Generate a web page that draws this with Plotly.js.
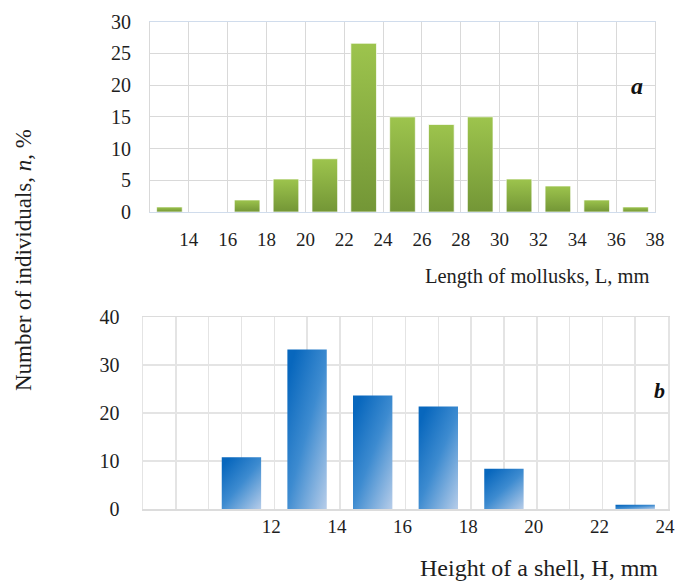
<!DOCTYPE html>
<html>
<head>
<meta charset="utf-8">
<script src="https://cdn.plot.ly/plotly-3.0.1.min.js"></script>
<style>
  html, body { margin: 0; padding: 0; background: #fff; }
  #chart { width: 685px; height: 586px; }
</style>
</head>
<body>
<div id="chart"></div>
<script>
// (a) shell length classes, mm (bin midpoints) and share of individuals, %
const lengthEdges = [12, 14, 16, 18, 20, 22, 24, 26, 28, 30, 32, 34, 36, 38];
const lengthMid = [13, 15, 17, 19, 21, 23, 25, 27, 29, 31, 33, 35, 37];
const lengthPct = [0.8, 0, 1.9, 5.2, 8.4, 26.6, 15.0, 13.8, 15.0, 5.2, 4.1, 1.9, 0.8];
const lengthTickLabels = ['', '14', '16', '18', '20', '22', '24', '26', '28', '30', '32', '34', '36', '38'];

// (b) shell height classes, mm (bin midpoints) and share of individuals, %
const heightEdges = [8, 9, 10, 11, 12, 13, 14, 15, 16, 17, 18, 19, 20, 21, 22, 23, 24];
const heightMid = [11, 13, 15, 17, 19, 21, 23];
const heightPct = [10.8, 33.3, 23.7, 21.4, 8.4, 0, 0.9];
const heightTickLabels = ['', '', '', '', '12', '', '14', '', '16', '', '18', '', '20', '', '22', '', '24'];

const W = 685, H = 586;
const px = v => v / W;
const py = v => 1 - v / H;

const serif = 'Liberation Serif, Times New Roman, serif';
const ink = '#1e1e1e';

const traces = [
  {
    type: 'bar', x: lengthMid, y: lengthPct, width: 1.32,
    xaxis: 'x', yaxis: 'y',
    marker: { color: '#8aae43', line: { color: 'rgba(255,255,255,0.7)', width: 1 } },
    hoverinfo: 'x+y'
  },
  {
    type: 'bar', x: heightMid, y: heightPct, width: 1.2,
    xaxis: 'x2', yaxis: 'y2',
    marker: { color: '#3f8ad0', line: { width: 0 } },
    hoverinfo: 'x+y'
  }
];

const layout = {
  width: W, height: H,
  margin: { l: 0, r: 0, t: 0, b: 0 },
  paper_bgcolor: '#fff', plot_bgcolor: '#fff',
  showlegend: false,
  font: { family: serif, color: ink },
  xaxis: {
    domain: [px(150), px(655)], anchor: 'y',
    range: [12, 38], tickmode: 'array',
    tickvals: lengthEdges, ticktext: lengthTickLabels,
    showgrid: true, gridcolor: '#d9d9d9', gridwidth: 1,
    showline: true, linecolor: '#d0dcec', mirror: true,
    zeroline: false, ticks: '', ticklabelstandoff: 10,
    tickfont: { family: serif, size: 19, color: ink }, fixedrange: true
  },
  yaxis: {
    domain: [py(212), py(21.7)], anchor: 'x',
    range: [0, 30], tickmode: 'linear', tick0: 0, dtick: 5,
    showgrid: true, gridcolor: '#d9d9d9', gridwidth: 1,
    showline: true, linecolor: '#d9d9d9', mirror: true,
    zeroline: false, ticks: '', ticklabelstandoff: 14,
    tickfont: { family: serif, size: 20, color: ink }, fixedrange: true
  },
  xaxis2: {
    domain: [px(143), px(668)], anchor: 'y2',
    range: [8, 24], tickmode: 'array',
    tickvals: heightEdges, ticktext: heightTickLabels,
    showgrid: true, gridcolor: '#e4e4e4', gridwidth: 1.5,
    showline: true, linecolor: '#dcdcdc', linewidth: 1.5, mirror: true,
    zeroline: false, ticks: '', ticklabelstandoff: 0, ticklabelshift: -3,
    tickfont: { family: serif, size: 19, color: ink }, fixedrange: true
  },
  yaxis2: {
    domain: [py(509), py(317.3)], anchor: 'x2',
    range: [0, 40], tickmode: 'linear', tick0: 0, dtick: 10,
    showgrid: true, gridcolor: '#e4e4e4', gridwidth: 1.5,
    showline: true, linecolor: '#e4e4e4', linewidth: 1.5, mirror: true,
    zeroline: false, ticks: '', ticklabelstandoff: 18,
    tickfont: { family: serif, size: 20, color: ink }, fixedrange: true
  },
  annotations: [
    {
      xref: 'paper', yref: 'paper', x: px(24), y: py(260),
      xanchor: 'center', yanchor: 'middle',
      text: 'Number of individuals, <i>n</i>, %', textangle: -90,
      showarrow: false, font: { family: serif, size: 23, color: ink }
    },
    {
      xref: 'paper', yref: 'paper', x: px(537), y: py(276),
      xanchor: 'center', yanchor: 'middle',
      text: 'Length of mollusks, L, mm',
      showarrow: false, font: { family: serif, size: 20.5, color: ink }
    },
    {
      xref: 'paper', yref: 'paper', x: px(539), y: py(568),
      xanchor: 'center', yanchor: 'middle',
      text: 'Height of a shell, H, mm',
      showarrow: false, font: { family: serif, size: 24, color: ink }
    },
    {
      xref: 'paper', yref: 'paper', x: px(637), y: py(86),
      xanchor: 'center', yanchor: 'middle',
      text: '<b><i>a</i></b>',
      showarrow: false, font: { family: serif, size: 24, color: '#111' }
    },
    {
      xref: 'paper', yref: 'paper', x: px(659), y: py(390),
      xanchor: 'center', yanchor: 'middle',
      text: '<b><i>b</i></b>',
      showarrow: false, font: { family: serif, size: 22, color: '#111' }
    }
  ]
};

// Gradient fills for the bars (Plotly bars only take flat colours)
function addGradients(gd) {
  const svg = gd.querySelector('svg.main-svg');
  const ns = 'http://www.w3.org/2000/svg';
  const defs = document.createElementNS(ns, 'defs');
  function grad(id, x1, y1, x2, y2, stops) {
    const g = document.createElementNS(ns, 'linearGradient');
    g.setAttribute('id', id);
    g.setAttribute('x1', x1); g.setAttribute('y1', y1);
    g.setAttribute('x2', x2); g.setAttribute('y2', y2);
    stops.forEach(([off, col]) => {
      const s = document.createElementNS(ns, 'stop');
      s.setAttribute('offset', off);
      s.setAttribute('stop-color', col);
      g.appendChild(s);
    });
    defs.appendChild(g);
  }
  grad('greenFill', 0, 0, 0, 1, [[0, '#9dc44d'], [1, '#739636']]);
  grad('blueFill', 0.15, 0.05, 1, 1, [[0, '#0867bd'], [0.45, '#3d8bd0'], [1, '#b7cde9']]);
  svg.insertBefore(defs, svg.firstChild);

  gd.querySelectorAll('.subplot.xy .trace.bars path').forEach(p => { p.style.fill = 'url(#greenFill)'; });
  gd.querySelectorAll('.subplot.x2y2 .trace.bars path').forEach(p => { p.style.fill = 'url(#blueFill)'; });
}

Plotly.newPlot('chart', traces, layout, { displayModeBar: false, staticPlot: true })
  .then(addGradients);
</script>
</body>
</html>
